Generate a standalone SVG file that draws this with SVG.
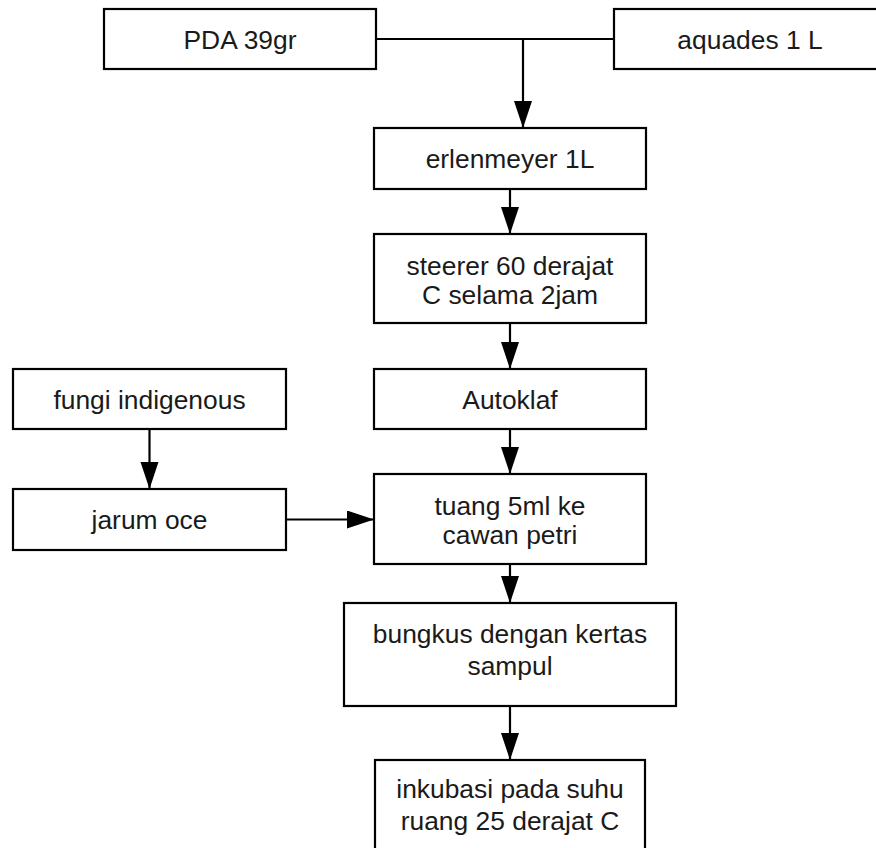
<svg xmlns="http://www.w3.org/2000/svg" width="876" height="848" viewBox="0 0 876 848">
<defs>
<style>
.box{fill:#ffffff;stroke:#000000;stroke-width:2.2}
.lbl{font-family:"Liberation Sans",Arial,sans-serif;font-size:26.4px;fill:#1a1a1a;text-anchor:middle}
.con{fill:none;stroke:#000000;stroke-width:2.2}
</style>
<marker id="ah" markerUnits="userSpaceOnUse" markerWidth="28" markerHeight="20" refX="27" refY="9" orient="auto">
<path d="M0,0 L27,9 L0,18 Z" fill="#000000"/>
</marker>
</defs>
<rect width="876" height="848" fill="#ffffff"/>
<g id="connectors">
<path class="con" d="M376,39 H614"/>
<path class="con" d="M523,39 V128" marker-end="url(#ah)"/>
<path class="con" d="M510,189 V234" marker-end="url(#ah)"/>
<path class="con" d="M510,323 V369" marker-end="url(#ah)"/>
<path class="con" d="M510,429 V474" marker-end="url(#ah)"/>
<path class="con" d="M510,564 V603" marker-end="url(#ah)"/>
<path class="con" d="M510,706 V760" marker-end="url(#ah)"/>
<path class="con" d="M149.5,429 V489" marker-end="url(#ah)"/>
<path class="con" d="M286,519.5 H374" marker-end="url(#ah)"/>
</g>
<g id="pda"><rect class="box" x="104" y="9" width="272" height="60"/><text class="lbl" x="240" y="48.5">PDA 39gr</text></g>
<g id="aquades"><rect class="box" x="614" y="9" width="272" height="60"/><text class="lbl" x="750" y="48.5">aquades 1 L</text></g>
<g id="erlenmeyer"><rect class="box" x="374" y="128" width="272" height="61"/><text class="lbl" x="510" y="168">erlenmeyer 1L</text></g>
<g id="steerer"><rect class="box" x="374" y="234" width="272" height="89"/><text class="lbl" x="510" y="275">steerer 60 derajat</text><text class="lbl" x="510" y="304">C selama 2jam</text></g>
<g id="autoklaf"><rect class="box" x="374" y="369" width="272" height="60"/><text class="lbl" x="510" y="408.5">Autoklaf</text></g>
<g id="fungi"><rect class="box" x="13" y="369" width="273" height="60"/><text class="lbl" x="149.5" y="408.5">fungi indigenous</text></g>
<g id="jarum"><rect class="box" x="13" y="489" width="273" height="61"/><text class="lbl" x="149.5" y="528.5">jarum oce</text></g>
<g id="tuang"><rect class="box" x="374" y="474" width="272" height="90"/><text class="lbl" x="510" y="515">tuang 5ml ke</text><text class="lbl" x="510" y="544">cawan petri</text></g>
<g id="bungkus"><rect class="box" x="344" y="603" width="332" height="103"/><text class="lbl" x="510" y="643">bungkus dengan kertas</text><text class="lbl" x="510" y="675">sampul</text></g>
<g id="inkubasi"><rect class="box" x="375" y="760" width="270" height="100"/><text class="lbl" x="510" y="798">inkubasi pada suhu</text><text class="lbl" x="510" y="830">ruang 25 derajat C</text></g>
</svg>
